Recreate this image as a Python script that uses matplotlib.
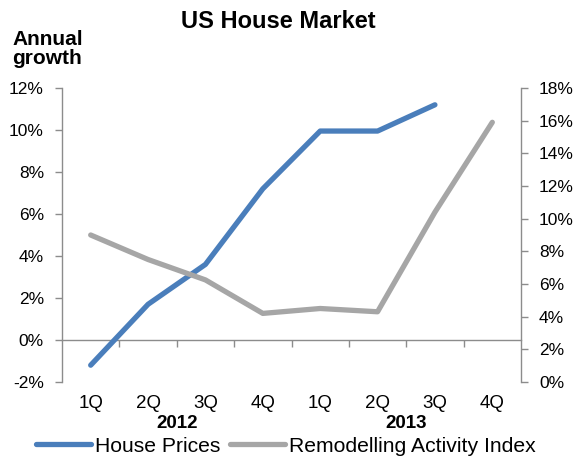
import matplotlib
matplotlib.use("Agg")
import matplotlib.pyplot as plt
import matplotlib.transforms as mtransforms
import numpy as np

plt.rcParams["font.family"] = ["Liberation Sans", "DejaVu Sans"]

quarters = ["1Q", "2Q", "3Q", "4Q", "1Q", "2Q", "3Q", "4Q"]
years = ["2012", "2013"]
house_prices = [-1.2, 1.7, 3.6, 7.2, 9.95, 9.95, 11.2]
remodelling = [9.0, 7.5, 6.25, 4.2, 4.5, 4.3, 10.4, 15.9]

BLUE = "#4a7ebb"
GREY = "#a6a6a6"
AXIS = "#8c8c8c"

fig = plt.figure(figsize=(5.75, 4.59), dpi=100)
ax = fig.add_axes([62 / 575, 1 - 382 / 459, (521 - 62) / 575, (382 - 88) / 459])
ax2 = ax.twinx()

x = np.arange(len(quarters))
ax.plot(x[:len(house_prices)], house_prices, color=BLUE, lw=3.8,
        solid_capstyle="round", label="House Prices", zorder=3)
ax2.plot(x, remodelling, color=GREY, lw=3.8, solid_capstyle="round",
         label="Remodelling Activity Index")

ax.set_xlim(-0.5, len(quarters) - 0.5)
ax.set_ylim(-2, 12)
ax.set_yticks(np.arange(-2, 13, 2))
ax.set_yticklabels([f"{v}%" for v in range(-2, 13, 2)])
ax2.set_ylim(0, 18)
ax2.set_yticks(np.arange(0, 19, 2))
ax2.set_yticklabels([f"{v}%" for v in range(0, 19, 2)])

for a in (ax, ax2):
    a.spines["top"].set_visible(False)
    for s in a.spines.values():
        s.set_color(AXIS)
        s.set_linewidth(1.0)
ax2.spines["bottom"].set_visible(False)
ax2.spines["left"].set_visible(False)
ax.spines["right"].set_visible(False)
ax.spines["bottom"].set_position(("data", 0))

# x ticks at category boundaries, labels drawn below the plot
ax.set_xticks(np.arange(0.5, len(quarters) - 0.5, 1))
ax.set_xticklabels([])
ax.tick_params(axis="x", length=5, width=1, color=AXIS, direction="out")
ax.tick_params(axis="y", length=5, width=1, color=AXIS, labelsize=12.5, pad=8)
ax2.tick_params(axis="y", length=5, width=1, color=AXIS, labelsize=12.5, pad=8)

trans = mtransforms.blended_transform_factory(ax.transData, fig.transFigure)
for i, q in enumerate(quarters):
    ax.text(i, 1 - 403 / 459, q, transform=trans, ha="center", va="center", fontsize=13.5)
for j, yr in enumerate(years):
    ax.text(1.5 + 4 * j, 1 - 424 / 459, yr, transform=trans, ha="center",
            va="center", fontsize=13.5, fontweight="bold")

fig.text(278 / 575, 1 - 22 / 459, "US House Market", ha="center", va="center",
         fontsize=17, fontweight="bold")
fig.text(12 / 575, 1 - 49 / 459, "Annual\ngrowth", ha="left", va="center",
         fontsize=15, fontweight="bold", linespacing=1.05)

h1, l1 = ax.get_legend_handles_labels()
h2, l2 = ax2.get_legend_handles_labels()
fig.legend(h1 + h2, l1 + l2, loc="center", bbox_to_anchor=(286 / 575, 1 - 446 / 459),
           ncol=2, frameon=False, fontsize=15.2, handlelength=2.6,
           handletextpad=0.2, columnspacing=0.45, borderaxespad=0, borderpad=0)

fig.savefig("out.png", dpi=100)
